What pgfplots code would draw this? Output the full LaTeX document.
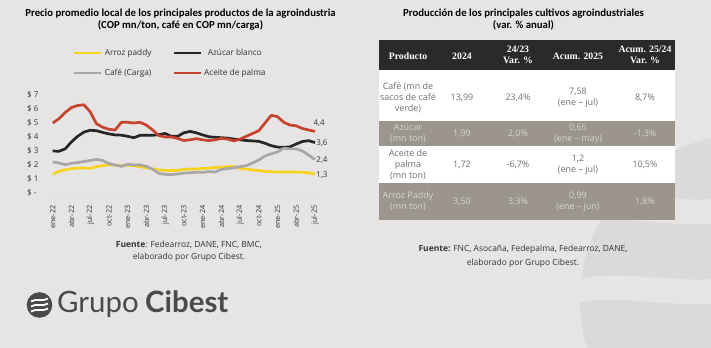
\documentclass[border=0pt]{standalone}
\usepackage{pgfplots}
\pgfplotsset{compat=1.18}
\usepackage{fontspec}
\setmainfont{Open Sans}
\newfontfamily\titlefont{Carlito}
\newfontfamily\headfont{Liberation Serif}
\newfontfamily\logofont{Lato}
\definecolor{bgc}{HTML}{E7E5E3}
\definecolor{cyel}{HTML}{F5D31E}
\definecolor{cblk}{HTML}{262626}
\definecolor{cgry}{HTML}{A9A7A5}
\definecolor{cred}{HTML}{C5432F}
\definecolor{hdr}{HTML}{2A2A2A}
\definecolor{rowg}{HTML}{9C958E}
\definecolor{rowgt}{HTML}{D9D5D0}
\definecolor{roww}{HTML}{707070}
\definecolor{txt}{HTML}{333333}
\definecolor{logoc}{HTML}{4A4A4A}
\begin{document}
\begin{tikzpicture}
\fill[bgc] (0,0) rectangle (711bp,348bp);
\begin{scope}[shift={(0,348bp)}, x=1bp, y=-1bp]
\clip (0,0) rectangle (711,348);
\fill[black!5!bgc] (745,300) circle (165bp);
\fill[bgc] (560,205) .. controls (620,180) and (690,215) .. (760,190) -- (760,215) .. controls (690,240) and (620,205) .. (560,228) -- cycle;
\fill[bgc] (560,285) .. controls (620,260) and (690,295) .. (760,270) -- (760,295) .. controls (690,320) and (620,285) .. (560,308) -- cycle;
\end{scope}
\begin{axis}[
  at={(52.7bp,155bp)}, anchor=south west,
  scale only axis, width=262.3bp, height=98bp,
  xmin=0, xmax=42, ymin=0, ymax=7,
  clip=false,
  axis line style={draw=none},
  major tick length=0pt,
  xtick={0,3,...,42},
  xticklabels={ene-22,abr-22,jul-22,oct-22,ene-23,abr-23,jul-23,oct-23,ene-24,abr-24,jul-24,oct-24,ene-25,abr-25,jul-25},
  xticklabel style={rotate=90, anchor=east, font=\fontsize{7.3}{8}\selectfont, text=txt},
  xticklabel shift=9bp,
  ytick={0,1,...,7},
  yticklabels={\$ -,\$ 1,\$ 2,\$ 3,\$ 4,\$ 5,\$ 6,\$ 7},
  yticklabel style={anchor=west, xshift=-29bp, font=\fontsize{8}{8}\selectfont, text=txt},
  legend columns=2,
  legend style={at={(0.066,1.51)}, anchor=north west, draw=none, fill=none,
    font=\fontsize{8.3}{9}\selectfont, text=txt,
    /tikz/every even column/.append style={column sep=19bp},
    row sep=8bp},
  legend image code/.code={\draw[#1, line width=2.6bp] (0,0) -- (27bp,0);},
  every axis plot/.append style={line width=2.7bp, line join=round},
]
\draw[black!12, line width=0.6bp] (axis cs:-0.8,0) -- (axis cs:42.3,0);
\addplot[cyel, no markers] coordinates {
(0,1.35)(1,1.55)(2,1.65)(3,1.74)(4,1.78)(5,1.79)(6,1.76)(7,1.88)(8,1.95)(9,2.02)
(10,1.98)(11,1.95)(12,1.98)(13,1.95)(14,1.88)(15,1.80)(16,1.72)(17,1.65)(18,1.62)(19,1.60)
(20,1.62)(21,1.68)(22,1.72)(23,1.72)(24,1.75)(25,1.78)(26,1.82)(27,1.85)(28,1.88)(29,1.90)
(30,1.75)(31,1.70)(32,1.65)(33,1.60)(34,1.55)(35,1.52)(36,1.50)(37,1.50)(38,1.50)(39,1.50)
(40,1.48)(41,1.45)(42,1.35)};
\addlegendentry{Arroz paddy}
\addplot[cblk, no markers] coordinates {
(0,3.00)(1,2.98)(2,3.15)(3,3.65)(4,4.05)(5,4.35)(6,4.48)(7,4.45)(8,4.33)(9,4.22)
(10,4.15)(11,4.13)(12,4.05)(13,3.95)(14,4.12)(15,4.12)(16,4.12)(17,4.17)(18,4.25)(19,4.05)
(20,4.05)(21,4.30)(22,4.40)(23,4.30)(24,4.15)(25,4.02)(26,3.98)(27,3.95)(28,3.92)(29,3.85)
(30,3.80)(31,3.75)(32,3.72)(33,3.69)(34,3.55)(35,3.38)(36,3.28)(37,3.26)(38,3.30)(39,3.50)
(40,3.68)(41,3.74)(42,3.60)};
\addlegendentry{Azúcar blanco}
\addplot[cgry, no markers] coordinates {
(0,2.22)(1,2.15)(2,2.02)(3,2.12)(4,2.18)(5,2.25)(6,2.32)(7,2.40)(8,2.32)(9,2.10)
(10,2.00)(11,1.90)(12,2.05)(13,2.00)(14,2.02)(15,1.90)(16,1.70)(17,1.40)(18,1.33)(19,1.31)
(20,1.36)(21,1.42)(22,1.45)(23,1.48)(24,1.47)(25,1.53)(26,1.50)(27,1.68)(28,1.75)(29,1.80)
(30,1.88)(31,1.95)(32,2.15)(33,2.35)(34,2.65)(35,2.80)(36,2.93)(37,3.20)(38,3.15)(39,3.15)
(40,3.00)(41,2.70)(42,2.40)};
\addlegendentry{Café (Carga)}
\addplot[cred, no markers] coordinates {
(0,5.00)(1,5.30)(2,5.75)(3,6.10)(4,6.25)(5,6.30)(6,5.80)(7,4.95)(8,4.70)(9,4.55)
(10,4.50)(11,5.05)(12,5.05)(13,5.00)(14,5.05)(15,4.85)(16,4.50)(17,4.10)(18,4.00)(19,4.00)
(20,3.90)(21,3.75)(22,3.80)(23,3.88)(24,3.80)(25,3.74)(26,3.80)(27,3.90)(28,3.85)(29,3.72)
(30,3.85)(31,4.05)(32,4.25)(33,4.45)(34,5.00)(35,5.55)(36,5.45)(37,5.05)(38,4.85)(39,4.80)
(40,4.60)(41,4.50)(42,4.40)};
\addlegendentry{Aceite de palma}
\begin{scope}[every node/.style={anchor=west, font=\fontsize{8}{8}\selectfont, text=txt, inner sep=0pt}]
\node at (axis cs:41.75,5.0) {4,4};
\node at (axis cs:42.2,3.57) {3,6};
\node at (axis cs:42.2,2.36) {2,4};
\node at (axis cs:42.2,1.29) {1,3};
\end{scope}
\end{axis}
\begin{scope}[shift={(0,348bp)}, x=1bp, y=-1bp]
% titles
\node[align=center, font=\titlefont\bfseries\fontsize{10.8}{12}\selectfont, text=black] at (180.5,20)
  {Precio promedio local de los principales productos de la agroindustria\\(COP mn/ton, café en COP mn/carga)};
\node[align=center, font=\titlefont\bfseries\fontsize{10.8}{12}\selectfont, text=black] at (523.5,20)
  {Producción de los principales cultivos agroindustriales\\(var. \% anual)};
% left source
\node[align=center, font=\fontsize{8.5}{12}\selectfont, text=txt] at (189,251)
  {{\bfseries Fuente}: Fedearroz, DANE, FNC, BMC,\\elaborado por Grupo Cibest.};
% right source
\node[align=center, font=\fontsize{8.5}{14}\selectfont, text=txt] at (523,256)
  {{\bfseries Fuente:} FNC, Asocaña, Fedepalma, Fedearroz, DANE,\\elaborado por Grupo Cibest.};
% table
\fill[hdr] (379,40) rectangle (675,70);
\fill[white] (379,70) rectangle (675,121);
\fill[rowg] (379,121) rectangle (675,146);
\fill[white] (379,146) rectangle (675,183);
\fill[rowg] (379,183) rectangle (675,220);
\begin{scope}[every node/.style={align=center, text=white, font=\headfont\bfseries\fontsize{9.8}{11.5}\selectfont}]
\node at (408,56) {Producto};
\node at (462,56) {2024};
\node at (518,55) {24/23\\Var. \%};
\node at (578,56) {Acum. 2025};
\node at (645,55) {Acum. 25/24\\Var. \%};
\end{scope}
\begin{scope}[every node/.style={align=center, text=roww, font=\fontsize{9}{11.2}\selectfont}]
\node at (408,97.5) {Café (mn de\\sacos de café\\verde)};
\node at (462,97.5) {13,99};
\node at (518,97.5) {23,4\%};
\node at (578,97.5) {7,58\\(ene – jul)};
\node at (645,97.5) {8,7\%};
\node at (408,164.5) {Aceite de\\palma\\(mn ton)};
\node at (462,164.5) {1,72};
\node at (518,164.5) {-6,7\%};
\node at (578,164.5) {1,2\\(ene – jul)};
\node at (645,164.5) {10,5\%};
\end{scope}
\begin{scope}[every node/.style={align=center, text=rowgt, font=\fontsize{9}{11.2}\selectfont}]
\node at (408,133.5) {Azúcar\\(mn ton)};
\node at (462,133.5) {1,99};
\node at (518,133.5) {2,0\%};
\node at (578,133.5) {0,65\\(ene – may)};
\node at (645,133.5) {-1,3\%};
\node at (408,201.5) {Arroz Paddy\\(mn ton)};
\node at (462,201.5) {3,50};
\node at (518,201.5) {3,3\%};
\node at (578,201.5) {0,99\\(ene – jun)};
\node at (645,201.5) {1,8\%};
\end{scope}
% logo
\fill[logoc] (39.5,305) circle (12.8bp);
\foreach \dy in {-5,0,5} {
  \draw[white, line width=1.8bp] (31,305+\dy+1.5) .. controls (36,305+\dy-2) and (43,305+\dy+2) .. (48,305+\dy-1.5);
}
\node[anchor=base west, inner sep=0pt, text=logoc, font=\logofont\fontsize{29.5}{30}\selectfont] at (57,313) {Grupo};
\node[anchor=base west, inner sep=0pt, text=logoc, font=\logofont\bfseries\fontsize{29.5}{30}\selectfont] at (145,313) {Cibest};
\end{scope}
\pgfresetboundingbox
\useasboundingbox (0,0) rectangle (711bp,348bp);
\end{tikzpicture}
\end{document}
